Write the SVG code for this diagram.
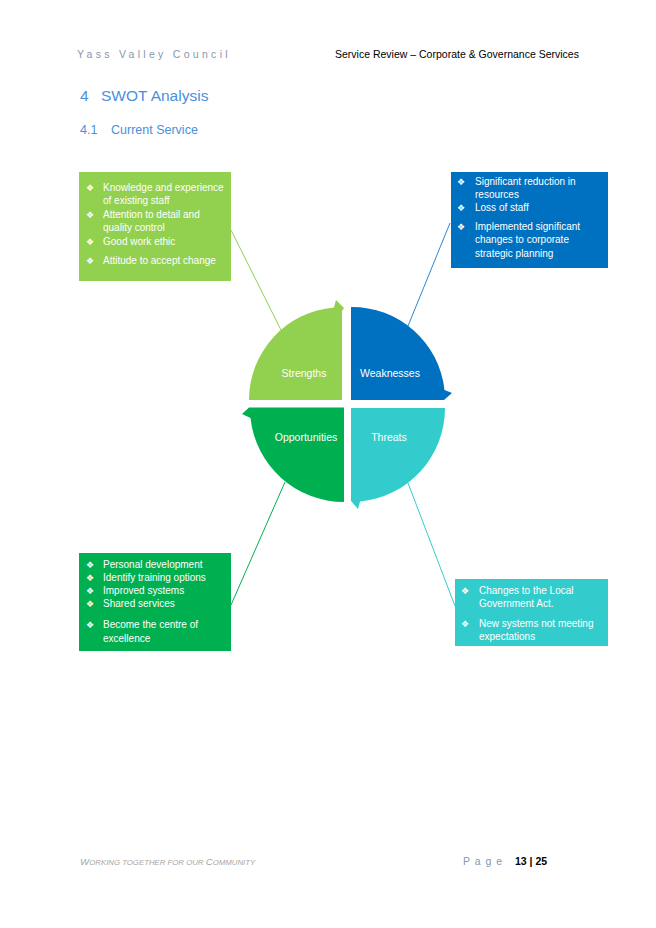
<svg xmlns="http://www.w3.org/2000/svg" width="656" height="928" viewBox="0 0 656 928">
<style>
text{font-family:"Liberation Sans",Arial,sans-serif}
.bx{font-size:10px;fill:#ffffff}
.bl{font-family:"DejaVu Sans",sans-serif;font-size:9px;fill:#ffffff}
.ql{font-size:10.5px;fill:#ffffff;text-anchor:middle}
.hd{font-size:10.5px}
.ttl{fill:#4A90D9}
.cn{fill:none;stroke-width:1}
</style>
<rect width="656" height="928" fill="#ffffff"/>
<g id="header">
<text x="77" y="58" class="hd" fill="#8497B0" letter-spacing="3.3" font-size="11">Yass Valley Council</text>
<text x="335" y="58" class="hd" fill="#000000">Service Review – Corporate &amp; Governance Services</text>
<text x="80" y="101" class="ttl" font-size="15.5">4</text>
<text x="101" y="101" class="ttl" font-size="15.5">SWOT Analysis</text>
<text x="80" y="134" class="ttl" font-size="12.5">4.1</text>
<text x="111" y="134" class="ttl" font-size="12.5">Current Service</text>
</g>
<g id="connectors">
<line class="cn" stroke="#92D050" x1="231" y1="230" x2="281" y2="330"/>
<line class="cn" stroke="#2E86D0" x1="450" y1="223" x2="408" y2="326"/>
<line class="cn" stroke="#00B050" x1="285" y1="482" x2="231" y2="605"/>
<line class="cn" stroke="#33CCCC" x1="408" y1="483" x2="455" y2="606"/>
</g>
<g id="strengths">
<path fill="#92D050" d="M342,400 L249,400 A93,93 0 0 1 334,307.4 L336,300 L344,308 L342,311 Z"/>
<text x="304" y="377" class="ql">Strengths</text>
</g>
<g id="weaknesses">
<path fill="#0070C0" d="M351,307 A93,93 0 0 1 444.5,390 L452,393 L444,400 L351,400 Z"/>
<text x="390" y="377" class="ql">Weaknesses</text>
</g>
<g id="opportunities">
<path fill="#00B050" d="M344,502 A94,94 0 0 1 250.5,418 L242,414 L249,407.5 L344,407.5 Z"/>
<text x="306" y="441" class="ql">Opportunities</text>
</g>
<g id="threats">
<path fill="#33CCCC" d="M351,408 L445,408 A94,94 0 0 1 360,501.6 L358,509 L351,501 Z"/>
<text x="389" y="441" class="ql">Threats</text>
</g>
<g id="strengths-box">
<rect x="79" y="172" width="152" height="109" fill="#92D050"/>
<text x="86" y="191" class="bl">❖</text><text x="103" y="191" class="bx">Knowledge and experience</text>
<text x="103" y="204" class="bx">of existing staff</text>
<text x="86" y="218" class="bl">❖</text><text x="103" y="218" class="bx">Attention to detail and</text>
<text x="103" y="231" class="bx">quality control</text>
<text x="86" y="245" class="bl">❖</text><text x="103" y="245" class="bx">Good work ethic</text>
<text x="86" y="264" class="bl">❖</text><text x="103" y="264" class="bx">Attitude to accept change</text>
</g>
<g id="weaknesses-box">
<rect x="451" y="172" width="157" height="96" fill="#0070C0"/>
<text x="457" y="185" class="bl">❖</text><text x="475" y="185" class="bx">Significant reduction in</text>
<text x="475" y="198" class="bx">resources</text>
<text x="457" y="211" class="bl">❖</text><text x="475" y="211" class="bx">Loss of staff</text>
<text x="457" y="230" class="bl">❖</text><text x="475" y="230" class="bx">Implemented significant</text>
<text x="475" y="243" class="bx">changes to corporate</text>
<text x="475" y="257" class="bx">strategic planning</text>
</g>
<g id="opportunities-box">
<rect x="79" y="553" width="152" height="98" fill="#00B050"/>
<text x="86" y="568" class="bl">❖</text><text x="103" y="568" class="bx">Personal development</text>
<text x="86" y="581" class="bl">❖</text><text x="103" y="581" class="bx">Identify training options</text>
<text x="86" y="594" class="bl">❖</text><text x="103" y="594" class="bx">Improved systems</text>
<text x="86" y="607" class="bl">❖</text><text x="103" y="607" class="bx">Shared services</text>
<text x="86" y="628" class="bl">❖</text><text x="103" y="628" class="bx">Become the centre of</text>
<text x="103" y="642" class="bx">excellence</text>
</g>
<g id="threats-box">
<rect x="455" y="579" width="153" height="67" fill="#33CCCC"/>
<text x="461" y="594" class="bl">❖</text><text x="479" y="594" class="bx">Changes to the Local</text>
<text x="479" y="607" class="bx">Government Act.</text>
<text x="461" y="627" class="bl">❖</text><text x="479" y="627" class="bx">New systems not meeting</text>
<text x="479" y="640" class="bx">expectations</text>
</g>
<g id="footer">
<text x="80" y="865" font-style="italic" fill="#A6A6A6" font-size="7.8"><tspan font-size="9.8">W</tspan>ORKING TOGETHER FOR OUR <tspan font-size="9.8">C</tspan>OMMUNITY</text>
<text x="463" y="865" font-size="10.5" fill="#8497B0" letter-spacing="1">P a g e</text>
<text x="515" y="865" font-size="10.5" fill="#000000" font-weight="bold">13 | 25</text>
</g>
</svg>
